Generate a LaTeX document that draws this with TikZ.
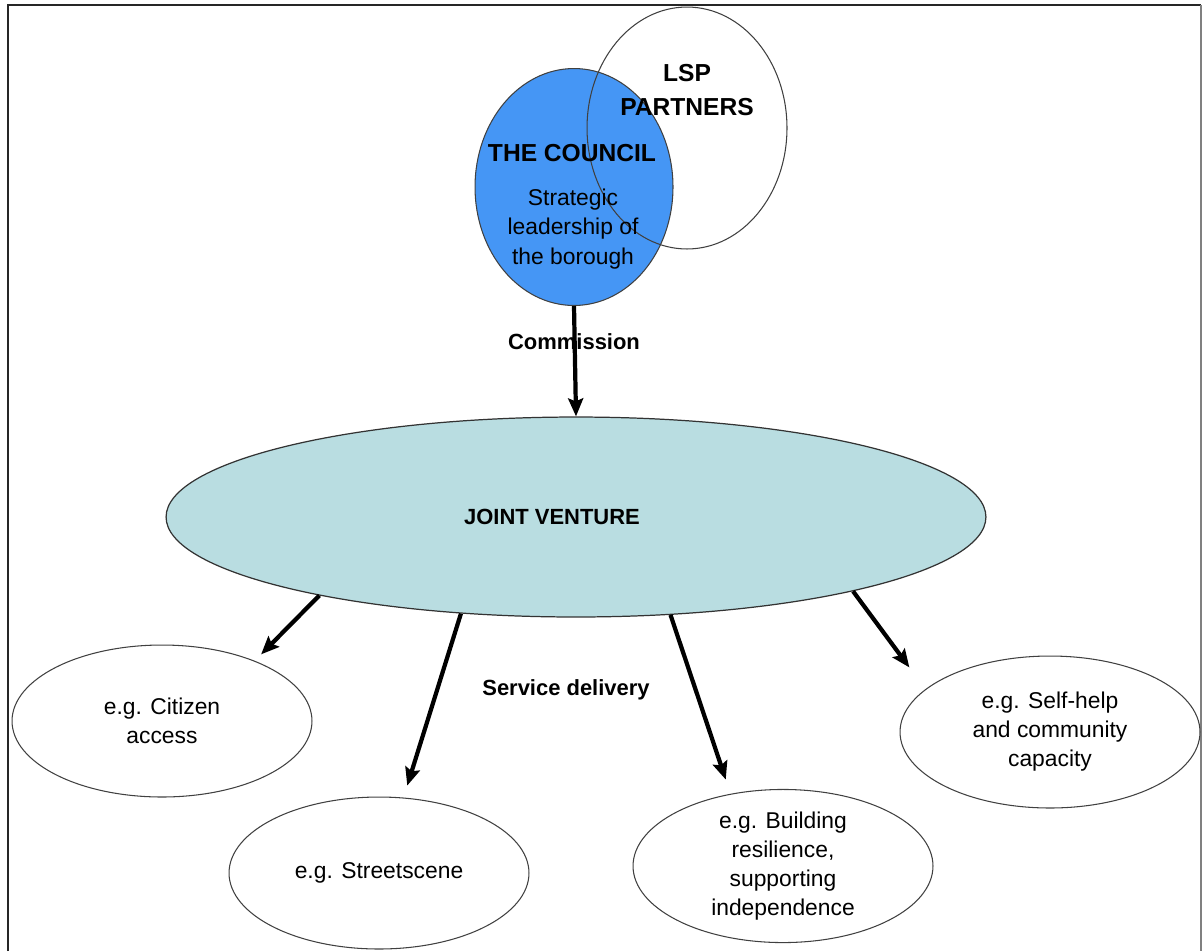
\documentclass[tikz,border=0pt]{standalone}
\usepackage{fontspec}
\setmainfont{Liberation Sans}
\usetikzlibrary{shapes.geometric,arrows.meta}

\definecolor{councilblue}{RGB}{69,150,245}
\definecolor{venturecyan}{RGB}{185,221,225}

\begin{document}
\begin{tikzpicture}[x=0.02cm, y=-0.02cm,
  bubble/.style={ellipse, draw=black!75, line width=0.6pt, inner sep=0pt, align=center,
    font=\fontsize{13pt}{16.5pt}\selectfont, minimum width=6cm, minimum height=3.04cm},
  caption/.style={align=center, font=\bfseries\fontsize{12.5pt}{17pt}\selectfont},
  feed/.style={line width=2.4pt, -{Stealth[length=0.36cm,width=0.3cm,inset=0.06cm]}}]

	\useasboundingbox (0,0) rectangle (1202,951);

	% Marco
	\draw[line width=1.4pt, black!85] (8,951) -- (8,5) -- (1201,5);
	\draw[line width=0.8pt, black!50] (1201,5) -- (1201,951);

	% El consejo y los socios
	\node[ellipse, fill=councilblue, draw=black!75, line width=0.6pt, minimum width=3.96cm, minimum height=4.74cm] (council) at (574,187) {};
	\node[ellipse, draw=black!75, line width=0.6pt, minimum width=4cm, minimum height=4.84cm] (lsp) at (687,128) {}; % solo contorno
	\node[caption, font=\bfseries\fontsize{14pt}{19.8pt}\selectfont] (lsptext) at (687,90) {LSP\\PARTNERS};
	\node[caption, font=\bfseries\fontsize{14pt}{17pt}\selectfont] (councilname) at (572,153) {THE COUNCIL};
	\node[align=center, font=\fontsize{13pt}{17pt}\selectfont] (councilrole) at (573,229) {Strategic\\leadership of\\the borough};

	% Encargo
	\node[caption] (commission) at (574,342) {Commission};

	% Empresa conjunta
	\node[ellipse, fill=venturecyan, draw=black!80, line width=0.7pt, minimum width=16.4cm, minimum height=4cm] (jv) at (576,517) {};
	\node[caption] (jvtext) at (552,517) {JOINT VENTURE};
	\draw[feed] (council.south) -- (jv.north);

	% Servicios
	\node[bubble] (citizen) at (162,721) {e.g. Citizen\\access};
	\node[bubble] (street) at (379,873) {e.g. Streetscene};
	\node[bubble] (building) at (783,866) {e.g. Building\\resilience,\\supporting\\independence};
	\node[bubble] (selfhelp) at (1050,732) {e.g. Self-help\\and community\\capacity};
	\node[caption] (service) at (566,690) {Service delivery};

	\draw[feed, shorten >=0.18cm] (jv.197) -- (citizen.33);
	\draw[feed, shorten >=0.25cm] (jv.220) -- (street.72);
	\draw[feed, shorten >=0.3cm] (jv.314) -- (building.126);
	\draw[feed, shorten >=0.54cm] (jv.345) -- (selfhelp.161);

\end{tikzpicture}
\end{document}
